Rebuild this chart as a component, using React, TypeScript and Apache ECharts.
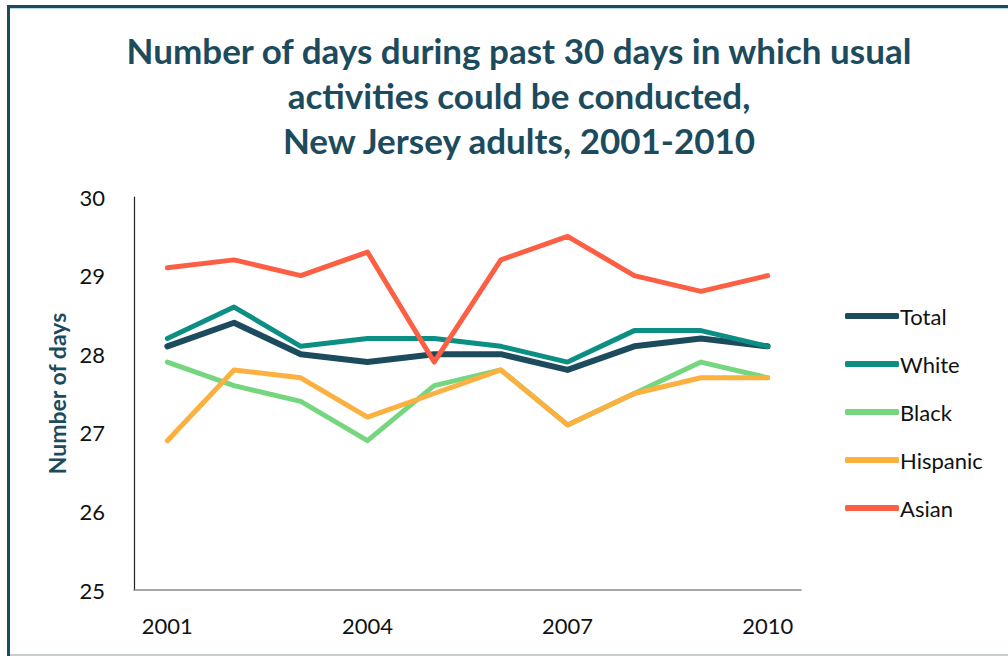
import React, { useEffect, useRef } from "react";
import * as echarts from "echarts";

const years = ["2001", "2002", "2003", "2004", "2005", "2006", "2007", "2008", "2009", "2010"];
const total = [28.1, 28.4, 28.0, 27.9, 28.0, 28.0, 27.8, 28.1, 28.2, 28.1];
const white = [28.2, 28.6, 28.1, 28.2, 28.2, 28.1, 27.9, 28.3, 28.3, 28.1];
const black = [27.9, 27.6, 27.4, 26.9, 27.6, 27.8, 27.1, 27.5, 27.9, 27.7];
const hispanic = [26.9, 27.8, 27.7, 27.2, 27.5, 27.8, 27.1, 27.5, 27.7, 27.7];
const asian = [29.1, 29.2, 29.0, 29.3, 27.9, 29.2, 29.5, 29.0, 28.8, 29.0];

const titleText = "Number of days during past 30 days in which usual\nactivities could be conducted,\nNew Jersey adults, 2001-2010";
const yAxisName = "Number of days";

const seriesDefs = [
  { name: "Total", data: total, color: "#1d4b5e", width: 6 },
  { name: "White", data: white, color: "#0b8f84", width: 5 },
  { name: "Black", data: black, color: "#76d67f", width: 5 },
  { name: "Hispanic", data: hispanic, color: "#fbb03f", width: 5 },
  { name: "Asian", data: asian, color: "#fc5f44", width: 5 },
];

const FONT = "Lato, 'Open Sans', sans-serif";

export default function App() {
  const ref = useRef<HTMLDivElement>(null);
  useEffect(() => {
    if (!ref.current) return;
    const chart = echarts.init(ref.current, undefined, { renderer: "svg" });
    chart.setOption({
      animation: false,
      backgroundColor: "#ffffff",
      title: {
        text: titleText,
        left: 514,
        textAlign: "center",
        top: 22,
        textStyle: {
          fontFamily: FONT,
          fontSize: 35,
          fontWeight: "bold",
          color: "#1d4b5e",
          lineHeight: 45,
        },
      },
      legend: {
        orient: "vertical",
        left: 840,
        top: 300,
        itemGap: 26,
        itemWidth: 54,
        itemHeight: 6,
        icon: "roundRect",
        textStyle: { fontFamily: FONT, fontSize: 22, color: "#111", padding: [0, 0, 0, -4] },
        data: seriesDefs.map((s) => ({ name: s.name, itemStyle: { color: s.color } })),
      },
      grid: { left: 134, right: 207, top: 197, bottom: 66, containLabel: false },
      xAxis: {
        type: "category",
        data: years,
        boundaryGap: true,
        axisLine: { show: true, lineStyle: { color: "#8a8a8a", width: 1.5 } },
        axisTick: { show: false },
        axisLabel: {
          interval: 2,
          fontFamily: FONT,
          fontSize: 22,
          color: "#111",
          margin: 24,
        },
        splitLine: { show: false },
      },
      yAxis: {
        type: "value",
        min: 25,
        max: 30,
        interval: 1,
        name: yAxisName,
        nameLocation: "middle",
        nameGap: 62,
        nameTextStyle: { fontFamily: FONT, fontSize: 23, fontWeight: "bold", color: "#1d4b5e" },
        axisLine: { show: true, lineStyle: { color: "#222", width: 1.2 } },
        axisTick: { show: false },
        axisLabel: { fontFamily: FONT, fontSize: 22, color: "#111", margin: 29 },
        splitLine: { show: false },
      },
      series: seriesDefs.map((s) => ({
        name: s.name,
        type: "line",
        data: s.data,
        symbol: "none",
        lineStyle: { color: s.color, width: s.width, cap: "round", join: "round" },
        itemStyle: { color: s.color },
      })),
      graphic: [
        { type: "rect", shape: { x: 7, y: 5, width: 1001, height: 3 }, style: { fill: "#1d4b5e" }, z: 100 },
        { type: "rect", shape: { x: 7, y: 8, width: 1001, height: 1 }, style: { fill: "#bcd7e6" }, z: 100 },
        { type: "rect", shape: { x: 7, y: 5, width: 3, height: 651 }, style: { fill: "#1d4b5e" }, z: 100 },
        { type: "rect", shape: { x: 10, y: 654, width: 998, height: 2 }, style: { fill: "#c8cdd0" }, z: 100 },
      ],
    });
    return () => chart.dispose();
  }, []);
  return <div ref={ref} style={{ position: "absolute", left: 0, top: 0, width: 1008, height: 656 }} />;
}
